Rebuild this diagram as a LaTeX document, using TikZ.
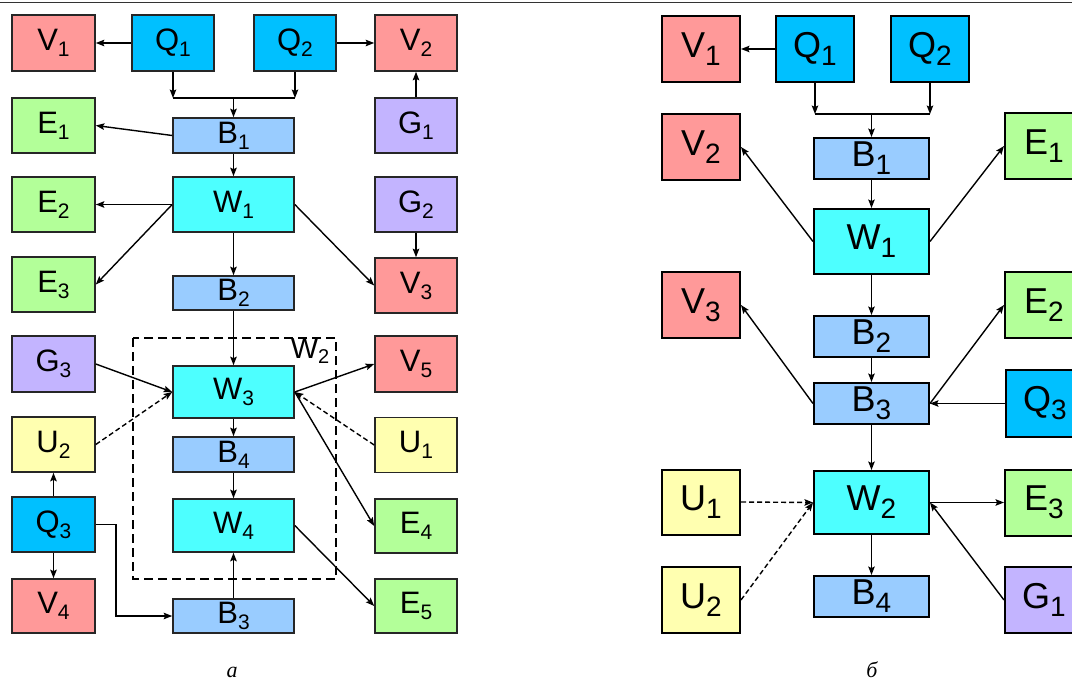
\documentclass[tikz,border=0pt]{standalone}
\usepackage{fontspec}
\setmainfont{Liberation Serif}
\newfontfamily\boxfont{Liberation Sans}
\usetikzlibrary{arrows.meta}

% lowered index digits for the two panels
\newcommand\subA[1]{\raisebox{-6pt}{\fontsize{21}{21}\selectfont #1}}
\newcommand\subB[1]{\raisebox{-8pt}{\fontsize{28}{28}\selectfont #1}}

\definecolor{cV}{RGB}{255,153,153}
\definecolor{cQ}{RGB}{0,192,255}
\definecolor{cE}{RGB}{179,255,153}
\definecolor{cG}{RGB}{195,180,255}
\definecolor{cB}{RGB}{153,204,255}
\definecolor{cW}{RGB}{77,255,255}
\definecolor{cU}{RGB}{255,255,176}

\tikzset{
  blk/.style={draw=black!85, inner sep=0pt, anchor=center},
  pa/.style={blk, line width=1.6pt, font=\boxfont\fontsize{31}{31}\selectfont},
  pb/.style={blk, draw=black, line width=2pt, font=\boxfont\fontsize{36}{36}\selectfont},
  sz/.style 2 args={minimum width=#1pt, minimum height=#2pt},
  fV/.style={fill=cV}, fQ/.style={fill=cQ}, fE/.style={fill=cE},
  fG/.style={fill=cG}, fB/.style={fill=cB}, fW/.style={fill=cW},
  fU/.style={fill=cU},
  conn/.style={line width=1.4pt, -{Stealth[length=8.5pt,width=6.5pt,inset=1.5pt]}},
  plain/.style={line width=1.4pt},
  dconn/.style={conn, dash pattern=on 5pt off 3pt},
  caption/.style={font=\itshape\fontsize{22}{22}\selectfont, anchor=base, inner sep=0pt}
}

\begin{document}
\begin{tikzpicture}[x=1pt, y=-1pt]
\clip (0,0) rectangle (1072,682);
\fill[white] (0,0) rectangle (1072,682);
% top rule
\draw[line width=1.6pt, black!80] (0,2.5) -- (1072,2.5);

% ---------------- panel a ----------------
\node[pa, fV, sz={83}{56}] (aV1) at (53.5,43) {V\subA{1}};
\node[pa, fQ, sz={82}{56}] (aQ1) at (173,43) {Q\subA{1}};
\node[pa, fQ, sz={82}{56}] (aQ2) at (295,43) {Q\subA{2}};
\node[pa, fV, sz={82}{56}] (aV2) at (416,43) {V\subA{2}};

\node[pa, fE, sz={83}{55}] (aE1) at (53.5,125.5) {E\subA{1}};
\node[pa, fB, sz={121}{35}] (aB1) at (233.5,135.5) {B\subA{1}};
\node[pa, fG, sz={82}{55}] (aG1) at (416,125.5) {G\subA{1}};

\node[pa, fE, sz={83}{55}] (aE2) at (53.5,204.5) {E\subA{2}};
\node[pa, fW, sz={121}{55}] (aW1) at (233.5,204.5) {W\subA{1}};
\node[pa, fG, sz={82}{55}] (aG2) at (416,204.5) {G\subA{2}};

\node[pa, fE, sz={83}{55}] (aE3) at (53.5,284.5) {E\subA{3}};
\node[pa, fB, sz={121}{34}] (aB2) at (233.5,293) {B\subA{2}};
\node[pa, fV, sz={82}{55}] (aV3) at (416,285.5) {V\subA{3}};

\node[pa, fG, sz={83}{56}] (aG3) at (53.5,364) {G\subA{3}};
\node[pa, fW, sz={121}{52}] (aW3) at (233.5,392) {W\subA{3}};
\node[pa, fV, sz={82}{56}] (aV5) at (416,364) {V\subA{5}};

\node[pa, fU, sz={83}{55}] (aU2) at (53.5,444.5) {U\subA{2}};
\node[pa, fB, sz={121}{35}] (aB4) at (233.5,454.5) {B\subA{4}};
\node[pa, fU, sz={82}{55}] (aU1) at (416,445) {U\subA{1}};

\node[pa, fQ, sz={83}{55}] (aQ3) at (53.5,524.5) {Q\subA{3}};
\node[pa, fW, sz={121}{53}] (aW4) at (233.5,525.5) {W\subA{4}};
\node[pa, fE, sz={82}{54}] (aE4) at (416,526) {E\subA{4}};

\node[pa, fV, sz={83}{54}] (aV4) at (53.5,606) {V\subA{4}};
\node[pa, fB, sz={121}{34}] (aB3) at (233.5,616) {B\subA{3}};
\node[pa, fE, sz={82}{54}] (aE5) at (416,606) {E\subA{5}};

% dashed frame of the aggregate W2
\draw[line width=1.4pt, dash pattern=on 9pt off 5pt] (133,338) rectangle (336,579);
\node[font=\boxfont\fontsize{29}{29}\selectfont, inner sep=0pt] (aW2lab) at (310,351) {W\raisebox{-5pt}{\fontsize{20}{20}\selectfont 2}};

% merge of Q1 and Q2 into B1
\coordinate (aJ) at (233.5,98);
\draw[conn] (aQ1.south) -- (aQ1.south |- aJ);
\draw[conn] (aQ2.south) -- (aQ2.south |- aJ);
\draw[plain] (aQ1.south |- aJ) -- (aQ2.south |- aJ);
\draw[conn] (aJ) -- (aB1.north);

\draw[conn] (aQ1.west) -- (aV1.east);
\draw[conn] (aQ2.east) -- (aV2.west);
\draw[conn] (aG1.north) -- (aV2.south);
\draw[conn] (aB1.west) -- (aE1.east);
\draw[conn] (aB1.south) -- (aW1.north);
\draw[conn] (aW1.west) -- (aE2.east);
\draw[conn] (aW1.west) -- (aE3.east);
\draw[conn] (aW1.east) -- (aV3.west);
\draw[conn] (aG2.south) -- (aV3.north);
\draw[conn] (aW1.south) -- (aB2.north);
\draw[conn] (aB2.south) -- (aW3.north);
\draw[conn] (aG3.east) -- (aW3.west);
\draw[dconn] (aU2.east) -- (aW3.west);
\draw[conn] (aW3.east) -- (aV5.west);
\draw[dconn] (aU1.west) -- (aW3.east);
\draw[conn] (aW3.east) -- (aE4.west);
\draw[conn] (aW3.south) -- (aB4.north);
\draw[conn] (aB4.south) -- (aW4.north);
\draw[conn] (aB3.north) -- (aW4.south);
\draw[conn] (aW4.east) -- (aE5.west);
\draw[conn] (aQ3.north) -- (aU2.south);
\draw[conn] (aQ3.south) -- (aV4.north);
\draw[conn] (aQ3.east) -- ++(20,0) |- (aB3.west);

\node[caption] (capA) at (232,677) {a};

% ---------------- panel b ----------------
\node[pb, fV, sz={78}{66}] (bV1) at (701,49) {V\subB{1}};
\node[pb, fQ, sz={78}{66}] (bQ1) at (815,49) {Q\subB{1}};
\node[pb, fQ, sz={78}{66}] (bQ2) at (930,49) {Q\subB{2}};

\node[pb, fV, sz={78}{66}] (bV2) at (701,147) {V\subB{2}};
\node[pb, fB, sz={115}{41}] (bB1) at (871.5,158.5) {B\subB{1}};
\node[pb, fE, sz={78}{66}] (bE1) at (1044,146) {E\subB{1}};

\node[pb, fW, sz={115}{65}] (bW1) at (871.5,241.5) {W\subB{1}};

\node[pb, fV, sz={78}{66}] (bV3) at (701,305) {V\subB{3}};
\node[pb, fB, sz={115}{41}] (bB2) at (871.5,336.5) {B\subB{2}};
\node[pb, fE, sz={78}{66}] (bE2) at (1044,305) {E\subB{2}};

\node[pb, fB, sz={115}{41}] (bB3) at (871.5,403.5) {B\subB{3}};
\node[pb, fQ, sz={78}{67}] (bQ3) at (1045,403.5) {Q\subB{3}};

\node[pb, fU, sz={78}{65}] (bU1) at (701,502) {U\subB{1}};
\node[pb, fW, sz={115}{63}] (bW2) at (871.5,502.5) {W\subB{2}};
\node[pb, fE, sz={78}{66}] (bE3) at (1044,502.5) {E\subB{3}};

\node[pb, fU, sz={78}{66}] (bU2) at (701,600) {U\subB{2}};
\node[pb, fB, sz={115}{41}] (bB4) at (871.5,596.5) {B\subB{4}};
\node[pb, fG, sz={78}{66}] (bG1) at (1044,600) {G\subB{1}};

% merge of Q1 and Q2 into B1
\coordinate (bJ) at (871.5,114);
\draw[conn] (bQ1.south) -- (bQ1.south |- bJ);
\draw[conn] (bQ2.south) -- (bQ2.south |- bJ);
\draw[plain] (bQ1.south |- bJ) -- (bQ2.south |- bJ);
\draw[conn] (bJ) -- (bB1.north);

\draw[conn] (bQ1.west) -- (bV1.east);
\draw[conn] (bB1.south) -- (bW1.north);
\draw[conn] (bW1.west) -- (bV2.east);
\draw[conn] (bW1.east) -- (bE1.west);
\draw[conn] (bW1.south) -- (bB2.north);
\draw[conn] (bB2.south) -- (bB3.north);
\draw[conn] (bB3.west) -- (bV3.east);
\draw[conn] (bB3.east) -- (bE2.west);
\draw[conn] (bQ3.west) -- (bB3.east);
\draw[conn] (bB3.south) -- (bW2.north);
\draw[dconn] (bU1.east) -- (bW2.west);
\draw[dconn] (bU2.east) -- (bW2.west);
\draw[conn] (bW2.east) -- (bE3.west);
\draw[conn] (bG1.west) -- (bW2.east);
\draw[conn] (bW2.south) -- (bB4.north);

\node[caption] (capB) at (872,677) {б};
\end{tikzpicture}
\end{document}
